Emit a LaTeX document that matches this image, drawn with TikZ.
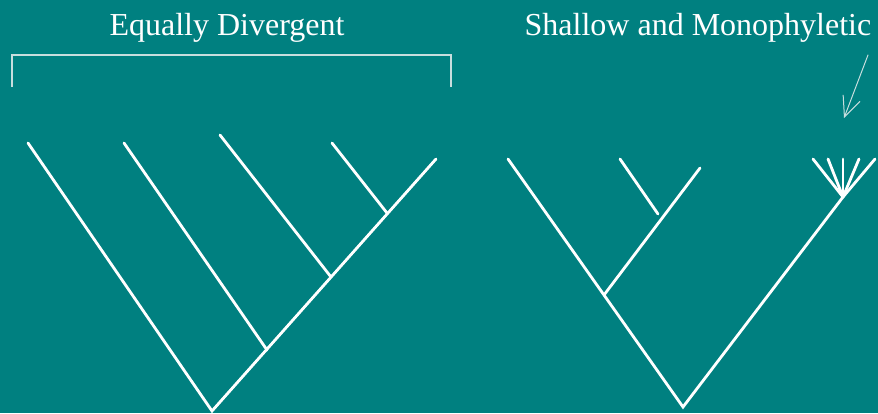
\documentclass[tikz,border=0pt]{standalone}
\usepackage{fontspec}
\setmainfont{Liberation Serif}
\usetikzlibrary{arrows.meta}
\usepackage{xcolor}
\definecolor{tealbg}{RGB}{0,128,128}
\definecolor{pale}{RGB}{200,222,222}

\begin{document}
\begin{tikzpicture}[x=1pt,y=-1pt,line cap=round,
  branch/.style={white,line width=2.8pt},
  title/.style={white,anchor=base,font=\fontsize{32}{36}\selectfont}]
\fill[tealbg] (0,0) rectangle (878,413);
\useasboundingbox (0,0) rectangle (878,413);
% titles
\node[title] (eqtitle) at (227,35) {Equally Divergent};
\node[title] (shtitle) at (698,35) {Shallow and Monophyletic};
% bracket over the left tree
\coordinate (brl) at (12,87);
\coordinate (brr) at (451,87);
\draw[pale,line width=1.3pt,line cap=butt] (brl) -- (12,55) -- (451,55) -- (brr);
% left tree
\coordinate (lroot) at (212,411);
\coordinate (la) at (267,350);
\coordinate (lb) at (331,277);
\coordinate (lc) at (387,213);
\coordinate (lt1) at (28,143);
\coordinate (lt2) at (124,143);
\coordinate (lt3) at (220,135);
\coordinate (lt4) at (332,143);
\coordinate (lt5) at (436,159);
\draw[branch] (lt1) -- (lroot) -- (lt5);
\draw[branch] (lt2) -- (la);
\draw[branch] (lt3) -- (lb);
\draw[branch] (lt4) -- (lc);
% right tree
\coordinate (rroot) at (683,407);
\coordinate (ra) at (604,295);
\coordinate (rb) at (658,214);
\coordinate (rstar) at (843,197);
\coordinate (rt1) at (508,159);
\coordinate (rt2) at (620,159);
\coordinate (rt3) at (700,168);
\draw[branch] (rt1) -- (rroot) -- (rstar);
\draw[branch] (ra) -- (rt3);
\draw[branch] (rt2) -- (rb);
\foreach \x in {813,828,843,859,875}
  \draw[branch] (rstar) -- (\x,159);
% arrow to the shallow clade
\coordinate (arrs) at (868,55);
\coordinate (arre) at (844,118);
\draw[pale,line width=1pt,-{Straight Barb[length=20pt,width=18pt]}] (arrs) -- (arre);
\end{tikzpicture}
\end{document}
